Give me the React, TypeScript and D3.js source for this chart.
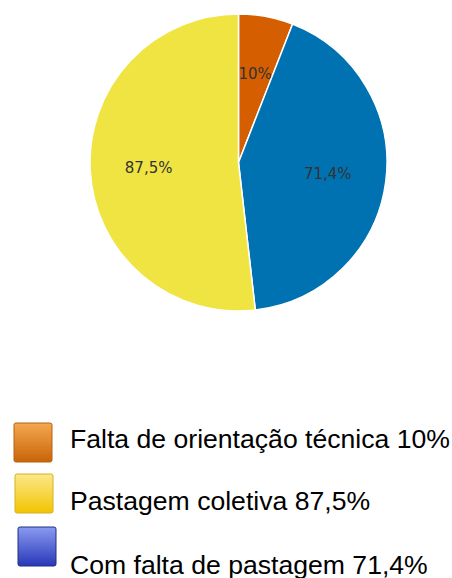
import React, {useEffect, useRef} from 'react';
import * as d3 from 'd3';

const labels = ['10%', '71,4%', '87,5%'];
const values = [10, 71.4, 87.5];
const colors = ['#D55E00', '#0072B2', '#F0E442'];

const legendText = [
    'Falta de orientação técnica 10%',
    'Pastagem coletiva 87,5%',
    'Com falta de pastagem 71,4%'
];
const legendGrad = [
    ['#F4A850', '#C86408', '#B8620E'],
    ['#FBE88A', '#F2C400', '#D8B020'],
    ['#8A9AF0', '#2838B8', '#20307E']
];

export default function App() {
    const ref = useRef<SVGSVGElement>(null);

    useEffect(() => {
        drawChart();
    }, []);

    function drawChart() {
        const svg = d3.select(ref.current);
        svg.selectAll('*').remove();

        const outerRadius = 148.5;
        const g = svg.append('g').attr('transform', 'translate(238.5, 162.5)');

        const pieGenerator = d3.pie<number>().sort(null).value((d) => d);
        const arcGenerator = d3.arc<d3.PieArcDatum<number>>()
            .innerRadius(0)
            .outerRadius(outerRadius);
        const labelArc = d3.arc<d3.PieArcDatum<number>>()
            .innerRadius(90)
            .outerRadius(90);

        const arcs = pieGenerator(values);

        g.selectAll('path')
            .data(arcs)
            .enter()
            .append('path')
            .attr('d', arcGenerator)
            .style('fill', (_, i) => colors[i])
            .style('stroke', '#ffffff')
            .style('stroke-width', 1.5);

        g.selectAll('text')
            .data(arcs)
            .enter()
            .append('text')
            .attr('text-anchor', 'middle')
            .attr('dominant-baseline', 'central')
            .attr('font-family', 'DejaVu Sans')
            .attr('font-size', 15)
            .style('fill', '#333333')
            .attr('transform', (d) => {
                const [x, y] = labelArc.centroid(d);
                return `translate(${x}, ${y})`;
            })
            .text((_, i) => labels[i]);

        // legend
        const defs = svg.append('defs');
        legendGrad.forEach((c, i) => {
            const lg = defs.append('linearGradient')
                .attr('id', `lg${i}`)
                .attr('x1', 0).attr('y1', 0).attr('x2', 0).attr('y2', 1);
            lg.append('stop').attr('offset', '0%').attr('stop-color', c[0]);
            lg.append('stop').attr('offset', '100%').attr('stop-color', c[1]);
        });

        const boxes = [[14, 423], [15, 474], [18, 527]];
        const textY = [448, 510, 574];

        const legend = svg.append('g');
        legendText.forEach((t, i) => {
            legend.append('rect')
                .attr('x', boxes[i][0])
                .attr('y', boxes[i][1])
                .attr('width', 38)
                .attr('height', 39)
                .attr('rx', 2)
                .style('fill', `url(#lg${i})`)
                .style('stroke', legendGrad[i][2])
                .style('stroke-width', 1);
            legend.append('text')
                .attr('x', 70)
                .attr('y', textY[i])
                .attr('font-family', 'Liberation Sans, Arial, sans-serif')
                .attr('font-size', 26.6)
                .style('fill', '#000000')
                .text(t);
        });
    }

    return (
        <svg ref={ref} width={452} height={578}
             style={{position: 'absolute', left: 0, top: 0, background: '#fff'}}/>
    );
}
